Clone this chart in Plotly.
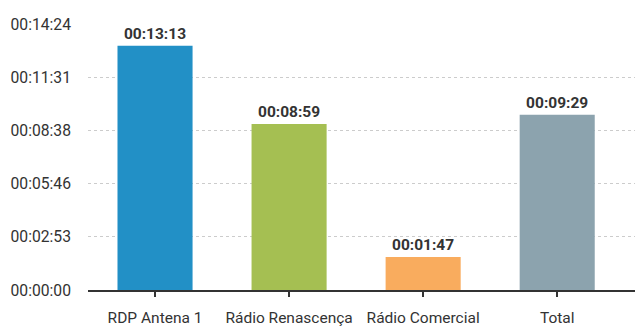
import plotly.graph_objects as go

categories = ["RDP Antena 1", "Rádio Renascença", "Rádio Comercial", "Total"]
values_sec = [793, 539, 107, 569]  # 00:13:13, 00:08:59, 00:01:47, 00:09:29
colors = ["#2290C6", "#A5BF52", "#F9AC5E", "#8CA3AE"]
ytick_vals = [0, 172.8, 345.6, 518.4, 691.2, 864]


def fmt(s):
    s = int(round(s))
    return f"{s // 3600:02d}:{(s % 3600) // 60:02d}:{s % 60:02d}"


FONT = "Roboto, sans-serif"

fig = go.Figure(
    go.Bar(
        x=categories,
        y=values_sec,
        marker=dict(color=colors, line=dict(width=0)),
        width=0.56,
        text=[fmt(v) for v in values_sec],
        textposition="outside",
        textfont=dict(family=FONT, size=15.5, color="#333333", weight="bold"),
        cliponaxis=False,
    )
)

# page body has an 8px default margin, so the figure is sized to fit the window
fig.update_layout(
    width=635,
    height=321,
    margin=dict(l=80, r=0, t=16, b=39, autoexpand=False),
    paper_bgcolor="white",
    plot_bgcolor="white",
    showlegend=False,
    font=dict(family=FONT, color="#333333"),
    xaxis=dict(
        range=[-0.5, 3.64],
        automargin=False,
        tickangle=0,
        showgrid=False,
        showline=True,
        linecolor="#333333",
        linewidth=1.5,
        ticks="outside",
        ticklen=5,
        tickwidth=1.5,
        tickcolor="#333333",
        ticklabelstandoff=8,
        tickfont=dict(family=FONT, size=15.5, color="#333333"),
        fixedrange=True,
    ),
    yaxis=dict(
        range=[0, 864],
        automargin=False,
        tickvals=ytick_vals,
        ticktext=[fmt(v) for v in ytick_vals],
        showgrid=True,
        gridcolor="#CCCCCC",
        griddash="dot",
        gridwidth=1,
        zeroline=False,
        showline=False,
        ticks="",
        ticklabelstandoff=16,
        tickfont=dict(family=FONT, size=15.7, color="#333333"),
        fixedrange=True,
    ),
)

fig.write_html("out.html")
